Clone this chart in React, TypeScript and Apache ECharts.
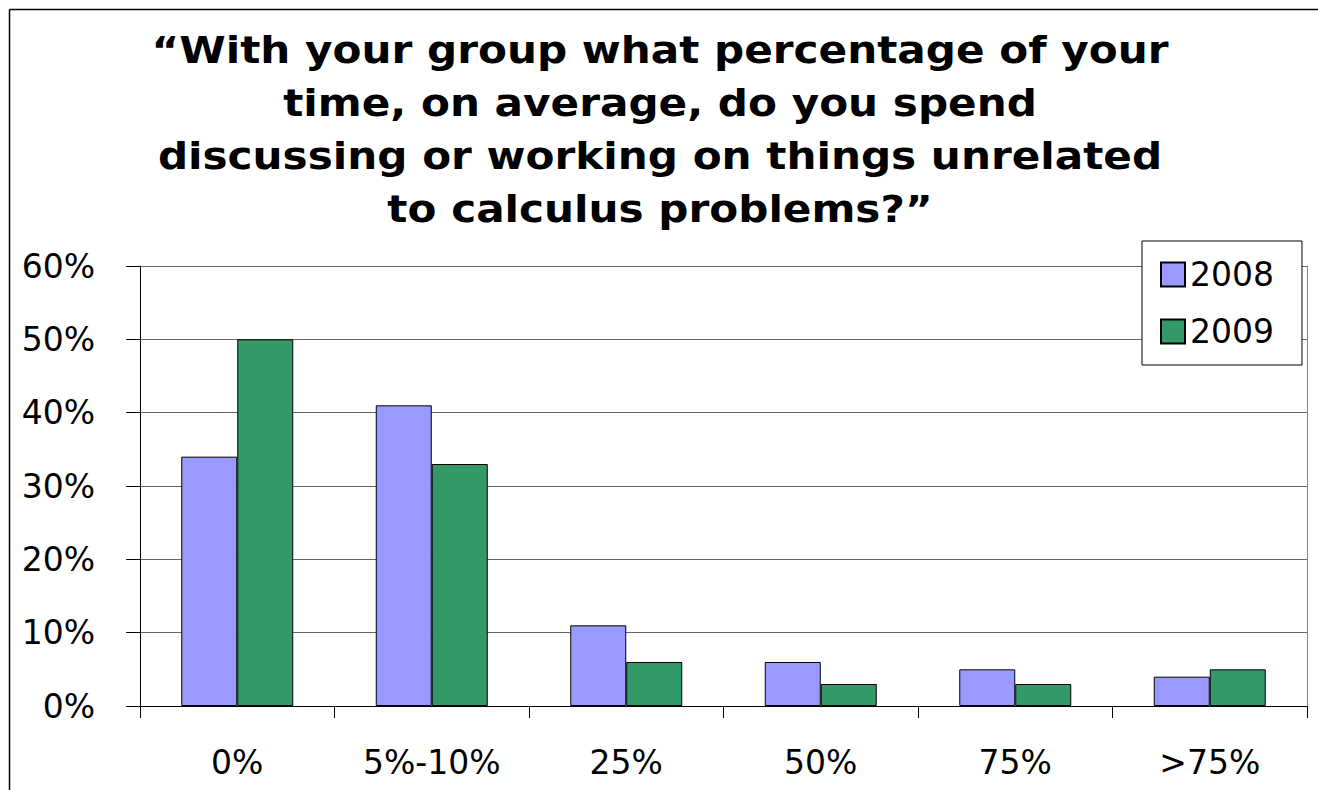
import React, { useEffect, useRef } from "react";
import * as echarts from "echarts";

const categories = ["0%", "5%-10%", "25%", "50%", "75%", ">75%"];
const values2008 = [34, 41, 11, 6, 5, 4];
const values2009 = [50, 33, 6, 3, 3, 5];
const seriesNames = ["2008", "2009"];
const titleLines = [
  "“With your group what percentage of your",
  "time, on average, do you spend",
  "discussing or working on things unrelated",
  "to calculus problems?”",
];

const FONT = "'DejaVu Sans', sans-serif";

export default function App() {
  const ref = useRef<HTMLDivElement>(null);
  useEffect(() => {
    if (!ref.current) return;
    const chart = echarts.init(ref.current, undefined, { renderer: "svg" });
    chart.setOption({
      animation: false,
      backgroundColor: "#ffffff",
      textStyle: { fontFamily: FONT, color: "#000" },
      grid: { left: 140, right: 11, top: 266, bottom: 84, containLabel: false },
      legend: {
        orient: "vertical",
        left: 1142,
        top: 241,
        padding: [17, 28, 17, 18],
        itemGap: 24,
        itemWidth: 24,
        itemHeight: 24,
        borderColor: "#000",
        borderWidth: 1,
        backgroundColor: "#fff",
        icon: "rect",
        textStyle: { fontSize: 33, fontFamily: FONT, color: "#000", lineHeight: 30 },
        data: seriesNames,
      },
      xAxis: {
        type: "category",
        data: categories,
        axisLine: { show: true, lineStyle: { color: "#000", width: 1 } },
        axisTick: { show: true, length: 12, interval: 0, alignWithLabel: false, lineStyle: { color: "#000" } },
        axisLabel: { fontSize: 33, fontFamily: FONT, color: "#000", margin: 40, interval: 0 },
        splitLine: { show: false },
      },
      yAxis: [
        {
          type: "value",
          min: 0,
          max: 60,
          interval: 10,
          axisLine: { show: true, lineStyle: { color: "#000", width: 1 } },
          axisTick: { show: true, length: 14, lineStyle: { color: "#000" } },
          axisLabel: { fontSize: 33, fontFamily: FONT, color: "#000", margin: 45, formatter: "{value}%" },
          splitLine: { show: true, lineStyle: { color: "#666", width: 1 } },
        },
        {
          type: "value",
          position: "right",
          min: 0,
          max: 60,
          interval: 10,
          axisLine: { show: true, lineStyle: { color: "#888", width: 1 } },
          axisTick: { show: false },
          axisLabel: { show: false },
          splitLine: { show: false },
        },
      ],
      series: [
        {
          name: seriesNames[0],
          type: "bar",
          data: values2008,
          barWidth: 56,
          barGap: "0%",
          itemStyle: { color: "#9999FF", borderColor: "#000", borderWidth: 1 },
        },
        {
          name: seriesNames[1],
          type: "bar",
          data: values2009,
          barWidth: 56,
          barGap: "0%",
          itemStyle: { color: "#339966", borderColor: "#000", borderWidth: 1 },
        },
      ],
      graphic: [
        {
          type: "line",
          shape: { x1: 9.5, y1: 9.5, x2: 1318, y2: 9.5 },
          style: { stroke: "#000", lineWidth: 1.5 },
          silent: true,
        },
        {
          type: "line",
          shape: { x1: 9.5, y1: 9.5, x2: 9.5, y2: 790 },
          style: { stroke: "#000", lineWidth: 1.5 },
          silent: true,
        },
        {
          type: "text",
          x: 660,
          y: 23,
          scaleX: 1.11,
          style: {
            text: titleLines.join("\n"),
            font: `bold 38px ${FONT}`,
            fill: "#000",
            textAlign: "center",
            lineHeight: 53,
          },
        },
      ],
    });
    return () => chart.dispose();
  }, []);
  return (
    <div
      ref={ref}
      style={{ position: "absolute", left: 0, top: 0, width: 1318, height: 790 }}
    />
  );
}
